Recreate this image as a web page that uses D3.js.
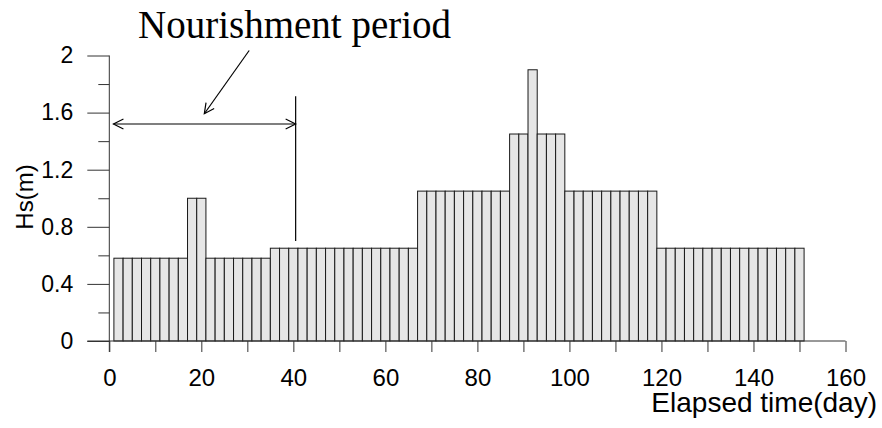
<!DOCTYPE html>
<html>
<head>
<meta charset="utf-8">
<script src="https://cdn.jsdelivr.net/npm/d3@7"></script>
<style>
  body { margin: 0; background: #fff; }
  svg { display: block; }
  .axis text { font-family: "Liberation Sans", Arial, sans-serif; fill: #000; }
  .axis line { stroke: #333; }
</style>
</head>
<body>
<div id="svg_container"></div>
<script>
/* -----------------------
data
------------------------- */

// start day of every 2-day bar
var barStart = [1, 3, 5, 7, 9, 11, 13, 15, 17, 19, 21, 23, 25, 27, 29, 31, 33,
    35, 37, 39, 41, 43, 45, 47, 49, 51, 53, 55, 57, 59, 61, 63, 65,
    67, 69, 71, 73, 75, 77, 79, 81, 83, 85,
    87, 89, 91, 93, 95, 97,
    99, 101, 103, 105, 107, 109, 111, 113, 115, 117,
    119, 121, 123, 125, 127, 129, 131, 133, 135, 137, 139, 141, 143, 145, 147, 149];

var barWidthDays = 2;

var hs = [0.58, 0.58, 0.58, 0.58, 0.58, 0.58, 0.58, 0.58, 1.0, 1.0,
    0.58, 0.58, 0.58, 0.58, 0.58, 0.58, 0.58,
    0.65, 0.65, 0.65, 0.65, 0.65, 0.65, 0.65, 0.65, 0.65, 0.65, 0.65, 0.65, 0.65, 0.65, 0.65, 0.65,
    1.05, 1.05, 1.05, 1.05, 1.05, 1.05, 1.05, 1.05, 1.05, 1.05,
    1.45, 1.45, 1.9, 1.45, 1.45, 1.45,
    1.05, 1.05, 1.05, 1.05, 1.05, 1.05, 1.05, 1.05, 1.05, 1.05,
    0.65, 0.65, 0.65, 0.65, 0.65, 0.65, 0.65, 0.65, 0.65, 0.65, 0.65, 0.65, 0.65, 0.65, 0.65, 0.65];

var xTicks = [0, 10, 20, 30, 40, 50, 60, 70, 80, 90, 100, 110, 120, 130, 140, 150, 160];
var xLabels = ["0", "", "20", "", "40", "", "60", "", "80", "", "100", "", "120", "", "140", "", "160"];
var yTicks = [0, 0.2, 0.4, 0.6, 0.8, 1.0, 1.2, 1.4, 1.6, 1.8, 2.0];
var yLabels = ["0", "", "0.4", "", "0.8", "", "1.2", "", "1.6", "", "2"];

// nourishment period annotation (day, Hs)
var periodArrow = [[0.9, 1.52], [40.5, 1.52]];
var periodEnd = [[40.5, 1.715], [40.5, 0.70]];
var pointer = [[30.4, 2.035], [20.65, 1.592]];

/* -----------------------
main variables
------------------------- */

var width = 882,
height = 428;

var svg = d3.select("#svg_container")
    .append("svg")
    .attr("width", width)
    .attr("height", height);

var x = d3.scaleLinear()
    .domain([0, 160])
    .range([109.3, 845.5]);

var y = d3.scaleLinear()
    .domain([0, 2])
    .range([341, 55.5]);

/* -----------------------
bars
------------------------- */

svg.append("g")
    .selectAll("rect")
    .data(hs)
    .enter().append("rect")
    .attr("x", function(d, i) { return x(barStart[i]); })
    .attr("y", function(d) { return y(d); })
    .attr("width", function(d, i) { return x(barStart[i] + barWidthDays) - x(barStart[i]); })
    .attr("height", function(d) { return y(0) - y(d); })
    .attr("fill", "#e6e6e6")
    .attr("stroke", "#1a1a1a")
    .attr("stroke-width", 1);

/* -----------------------
axes
------------------------- */

var gx = svg.append("g")
    .attr("class", "axis axis-x")
    .attr("transform", "translate(0," + y(0) + ")")
    .call(d3.axisBottom(x)
        .tickValues(xTicks)
        .tickSize(11)
        .tickSizeOuter(0)
        .tickPadding(17)
        .tickFormat(function(d, i) { return xLabels[i]; }));
gx.select(".domain").remove();
gx.selectAll("text").attr("font-size", "24px");

var gy = svg.append("g")
    .attr("class", "axis axis-y")
    .attr("transform", "translate(" + x(0) + ",0)")
    .call(d3.axisLeft(y)
        .tickValues(yTicks)
        .tickSize(22)
        .tickSizeOuter(0)
        .tickPadding(14)
        .tickFormat(function(d, i) { return yLabels[i]; }));
gy.select(".domain").remove();
gy.selectAll("text").attr("font-size", "23px");
// minor ticks are half length
gy.selectAll(".tick line")
    .attr("x2", function(d, i) { return yLabels[i] === "" ? -11 : -22; });

// axis lines, extending past the origin like the original
svg.append("line")
    .attr("x1", x(0) - 22).attr("x2", x(160))
    .attr("y1", y(0)).attr("y2", y(0))
    .attr("stroke", "#333");
svg.append("line")
    .attr("x1", x(0)).attr("x2", x(0))
    .attr("y1", y(2)).attr("y2", y(0) + 11)
    .attr("stroke", "#333");

svg.append("text")
    .attr("x", 877)
    .attr("y", 412)
    .attr("text-anchor", "end")
    .attr("font-family", "Liberation Sans, Arial, sans-serif")
    .attr("font-size", "28px")
    .text("Elapsed time(day)");

svg.append("text")
    .attr("transform", "translate(33,197) rotate(-90)")
    .attr("text-anchor", "middle")
    .attr("font-family", "Liberation Sans, Arial, sans-serif")
    .attr("font-size", "24px")
    .text("Hs(m)");

/* -----------------------
annotation
------------------------- */

var defs = svg.append("defs");
defs.append("marker")
    .attr("id", "vhead")
    .attr("viewBox", "-12 -7 14 14")
    .attr("refX", 0).attr("refY", 0)
    .attr("markerWidth", 14).attr("markerHeight", 14)
    .attr("markerUnits", "userSpaceOnUse")
    .attr("orient", "auto-start-reverse")
    .append("path")
    .attr("d", "M-10,-5L0,0L-10,5")
    .attr("fill", "none")
    .attr("stroke", "#000")
    .attr("stroke-width", 1.2);

var line = d3.line()
    .x(function(d) { return x(d[0]); })
    .y(function(d) { return y(d[1]); });

svg.append("path")
    .datum(periodArrow)
    .attr("d", line)
    .attr("stroke", "#000")
    .attr("stroke-width", 1.2)
    .attr("fill", "none")
    .attr("marker-start", "url(#vhead)")
    .attr("marker-end", "url(#vhead)");

svg.append("path")
    .datum(periodEnd)
    .attr("d", line)
    .attr("stroke", "#000")
    .attr("stroke-width", 1.2);

svg.append("path")
    .datum(pointer)
    .attr("d", line)
    .attr("stroke", "#000")
    .attr("stroke-width", 1.2)
    .attr("fill", "none")
    .attr("marker-end", "url(#vhead)");

svg.append("text")
    .attr("x", 138)
    .attr("y", 38)
    .attr("font-family", "Liberation Serif, Times New Roman, serif")
    .attr("font-size", "39px")
    .text("Nourishment period");
</script>
</body>
</html>
